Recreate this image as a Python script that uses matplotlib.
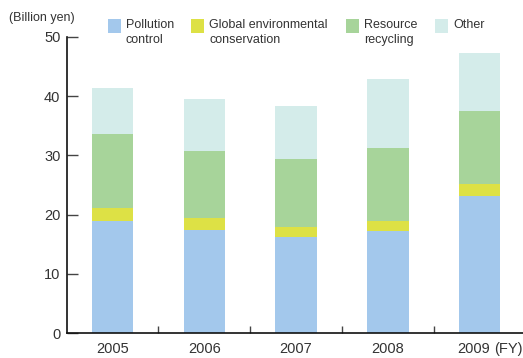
import numpy as np
import matplotlib.pyplot as plt
from matplotlib.patches import Rectangle
from matplotlib.transforms import ScaledTranslation

plt.rcParams['font.family'] = ['Liberation Sans', 'DejaVu Sans']

years = ['2005', '2006', '2007', '2008', '2009']
pollution = [18.9, 17.4, 16.2, 17.2, 23.2]
global_env = [2.2, 2.0, 1.7, 1.7, 2.0]
resource = [12.5, 11.3, 11.5, 12.3, 12.3]
other = [7.8, 8.8, 8.9, 11.7, 9.8]

series_names = ['Pollution\ncontrol', 'Global environmental\nconservation', 'Resource\nrecycling', 'Other']
colors = ['#a3c8ec', '#dde145', '#a7d49a', '#d4ecea']

W, H = 523, 358
fig = plt.figure(figsize=(W / 100, H / 100), dpi=100)
ax = fig.add_axes([67.3 / W, 1 - 333.3 / H, 1 - 67.3 / W, (333.3 - 36.7) / H])

x = np.arange(len(years))
bottom = np.zeros(len(years))
for vals, c in zip([pollution, global_env, resource, other], colors):
    ax.bar(x, vals, width=0.45, bottom=bottom, color=c, linewidth=0)
    bottom += np.array(vals)

ax.set_xlim(-0.49, 4.47)
ax.set_ylim(0, 50)
ax.set_yticks(range(0, 51, 10))
ax.set_xticks(x)
ax.set_xticklabels(years)
ax.set_xticks(x[:-1] + 0.5, minor=True)

for s in ['top', 'right']:
    ax.spines[s].set_visible(False)
for s in ['left', 'bottom']:
    ax.spines[s].set_linewidth(1.2)
    ax.spines[s].set_color('#111111')

ax.tick_params(axis='y', direction='in', length=8, width=1, color='#444444',
               labelsize=10.5, labelcolor='#333333', pad=5)
ax.tick_params(axis='x', which='major', length=0, labelsize=10.5, labelcolor='#333333', pad=6)
ax.tick_params(axis='x', which='minor', direction='in', length=5, width=1, color='#444444')

# last label sits a little left to leave room for (FY)
last = ax.get_xticklabels()[-1]
last.set_transform(last.get_transform() + ScaledTranslation(-6 / 100, 0, fig.dpi_scale_trans))
ax.annotate('(FY)', xy=(4, 0), xycoords=('data', 'axes fraction'),
            xytext=(10.2, -6), textcoords='offset points',
            fontsize=10.5, color='#333333', va='top', ha='left')

# unit label
fig.text(9 / W, 1 - 21 / H, '(Billion yen)', fontsize=9, color='#333333', va='baseline')

# legend
sq_x = [108, 191, 346, 435]
for sx, name, c in zip(sq_x, series_names, colors):
    fig.add_artist(Rectangle((sx / W, 1 - 32.7 / H), 12.7 / W, 13.3 / H,
                             transform=fig.transFigure, color=c, linewidth=0))
    fig.text((sx + 18) / W, 1 - 19.5 / H, name, fontsize=9, color='#333333',
             va='top', ha='left', linespacing=1.3)

plt.savefig('out.png', dpi=100)
plt.close()
